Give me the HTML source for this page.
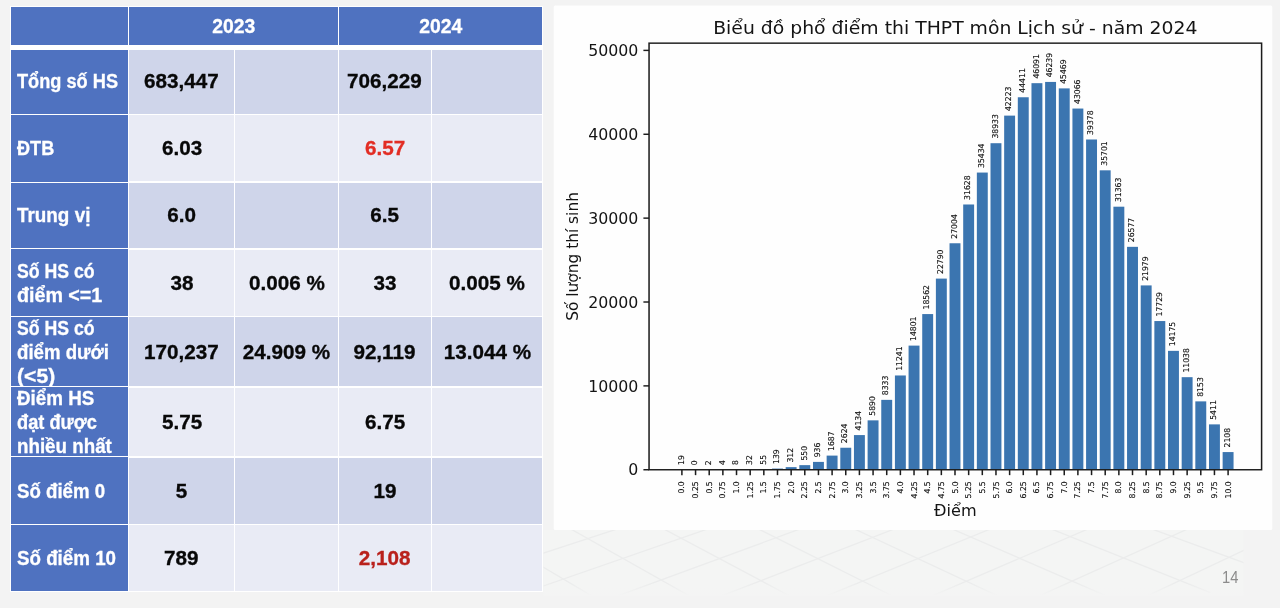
<!DOCTYPE html>
<html lang="vi">
<head>
<meta charset="utf-8">
<title>Phổ điểm thi THPT môn Lịch sử 2024</title>
<style>
html,body{margin:0;padding:0;}
body{width:1280px;height:608px;overflow:hidden;background:#f3f3f3;position:relative;font-family:"Liberation Sans","DejaVu Sans",sans-serif;}
#pat,#chart{position:absolute;left:0;top:0;}
#tbl{position:absolute;left:0;top:0;width:560px;height:608px;}
.wb{position:absolute;background:#ffffff;}
.c{position:absolute;display:flex;align-items:center;box-sizing:border-box;font-weight:bold;font-size:19.6px;line-height:24px;white-space:nowrap;overflow:hidden;}
.c.h{justify-content:center;color:#fff;}
.c.l{justify-content:flex-start;color:#fff;padding-left:5.6px;}
.c.v{justify-content:center;color:#080808;}
.c span{-webkit-text-stroke:0.3px currentColor;}
.c span{display:block;}
.c.l .ln{transform-origin:left center;}
#chart text.xt{font-size:7.7px;}
#chart text.bl{font-size:7.7px;}
#chart text.xt,#chart text.bl{stroke:#141414;stroke-width:0.12px;}
#chart text.yt{font-size:15.1px;}
#chart text.al{font-size:15.4px;}
#chart text.ti{font-size:18px;}
#pn{position:absolute;left:1222px;top:567.8px;font-size:16px;color:#8c8c8c;line-height:20px;transform:scaleX(0.92);transform-origin:left center;}
</style>
</head>
<body>
<svg id="pat" width="1280" height="608" viewBox="0 0 1280 608">
<defs><clipPath id="cp"><rect x="543.5" y="530" width="700" height="66"/></clipPath><linearGradient id="fade" x1="0" y1="0" x2="0" y2="1"><stop offset="0" stop-color="#f4f5f4" stop-opacity="0"/><stop offset="0.8" stop-color="#f4f5f4" stop-opacity="0"/><stop offset="1" stop-color="#f4f4f4" stop-opacity="1"/></linearGradient></defs>
<rect x="543.5" y="530" width="700" height="66" fill="#f4f5f4"/>
<g clip-path="url(#cp)" stroke="#ebecec" stroke-width="1.3" fill="none">
<line x1="277.5" y1="513.6" x2="457.5" y2="631.6"/>
<line x1="117.5" y1="593.8" x2="357.5" y2="529.0"/>
<line x1="366.0" y1="514.4" x2="546.0" y2="627.0"/>
<line x1="206.0" y1="597.2" x2="446.0" y2="527.8"/>
<line x1="456.1" y1="515.2" x2="636.1" y2="622.3"/>
<line x1="296.1" y1="600.6" x2="536.1" y2="526.7"/>
<line x1="547.8" y1="516.0" x2="727.8" y2="617.6"/>
<line x1="387.8" y1="604.1" x2="627.8" y2="525.5"/>
<line x1="641.1" y1="516.9" x2="821.1" y2="612.7"/>
<line x1="481.1" y1="607.6" x2="721.1" y2="524.3"/>
<line x1="736.0" y1="517.8" x2="916.0" y2="607.8"/>
<line x1="576.0" y1="611.2" x2="816.0" y2="523.1"/>
<line x1="832.5" y1="518.7" x2="1012.5" y2="602.8"/>
<line x1="672.5" y1="614.9" x2="912.5" y2="521.9"/>
<line x1="930.6" y1="519.6" x2="1110.6" y2="597.8"/>
<line x1="770.6" y1="618.7" x2="1010.6" y2="520.7"/>
<line x1="1030.3" y1="520.6" x2="1210.3" y2="592.6"/>
<line x1="870.3" y1="622.5" x2="1110.3" y2="519.4"/>
<line x1="1131.6" y1="521.6" x2="1311.6" y2="587.4"/>
<line x1="971.6" y1="626.4" x2="1211.6" y2="518.2"/>
<line x1="1234.5" y1="522.6" x2="1414.5" y2="582.1"/>
<line x1="1074.5" y1="630.3" x2="1314.5" y2="516.9"/>
<line x1="1339.0" y1="523.6" x2="1519.0" y2="576.7"/>
<line x1="1179.0" y1="634.4" x2="1419.0" y2="515.6"/>
<line x1="1445.1" y1="524.6" x2="1625.1" y2="571.3"/>
<line x1="1285.1" y1="638.4" x2="1525.1" y2="514.3"/>
</g>
<rect x="543.5" y="530" width="700" height="66" fill="url(#fade)"/>
</svg>
<svg id="chart" width="1280" height="608" viewBox="0 0 1280 608" font-family="'DejaVu Sans', 'Liberation Sans', sans-serif" fill="#141414">
<rect x="553.75" y="5.60" width="718.50" height="524.40" rx="1.5" fill="#fefefe"/>
<g transform="translate(553.75 0) scale(1.0460 1)">
<rect x="117.29" y="469.59" width="10.44" height="0.16" fill="#3b75b0"/>
<rect x="143.40" y="469.73" width="10.44" height="0.02" fill="#3b75b0"/>
<rect x="156.46" y="469.72" width="10.44" height="0.03" fill="#3b75b0"/>
<rect x="169.51" y="469.68" width="10.44" height="0.07" fill="#3b75b0"/>
<rect x="182.57" y="469.48" width="10.44" height="0.27" fill="#3b75b0"/>
<rect x="195.62" y="469.29" width="10.44" height="0.46" fill="#3b75b0"/>
<rect x="208.67" y="468.58" width="10.44" height="1.17" fill="#3b75b0"/>
<rect x="221.73" y="467.13" width="10.44" height="2.62" fill="#3b75b0"/>
<rect x="234.78" y="465.14" width="10.44" height="4.61" fill="#3b75b0"/>
<rect x="247.84" y="461.90" width="10.44" height="7.85" fill="#3b75b0"/>
<rect x="260.89" y="455.60" width="10.44" height="14.15" fill="#3b75b0"/>
<rect x="273.95" y="447.74" width="10.44" height="22.01" fill="#3b75b0"/>
<rect x="287.00" y="435.08" width="10.44" height="34.67" fill="#3b75b0"/>
<rect x="300.06" y="420.35" width="10.44" height="49.40" fill="#3b75b0"/>
<rect x="313.11" y="399.86" width="10.44" height="69.89" fill="#3b75b0"/>
<rect x="326.16" y="375.47" width="10.44" height="94.28" fill="#3b75b0"/>
<rect x="339.22" y="345.61" width="10.44" height="124.14" fill="#3b75b0"/>
<rect x="352.27" y="314.07" width="10.44" height="155.68" fill="#3b75b0"/>
<rect x="365.33" y="278.60" width="10.44" height="191.15" fill="#3b75b0"/>
<rect x="378.38" y="243.26" width="10.44" height="226.49" fill="#3b75b0"/>
<rect x="391.44" y="204.48" width="10.44" height="265.27" fill="#3b75b0"/>
<rect x="404.49" y="172.56" width="10.44" height="297.19" fill="#3b75b0"/>
<rect x="417.55" y="143.21" width="10.44" height="326.54" fill="#3b75b0"/>
<rect x="430.60" y="115.62" width="10.44" height="354.13" fill="#3b75b0"/>
<rect x="443.65" y="97.26" width="10.44" height="372.49" fill="#3b75b0"/>
<rect x="456.71" y="83.17" width="10.44" height="386.58" fill="#3b75b0"/>
<rect x="469.76" y="81.93" width="10.44" height="387.82" fill="#3b75b0"/>
<rect x="482.82" y="88.39" width="10.44" height="381.36" fill="#3b75b0"/>
<rect x="495.87" y="108.55" width="10.44" height="361.20" fill="#3b75b0"/>
<rect x="508.93" y="139.48" width="10.44" height="330.27" fill="#3b75b0"/>
<rect x="521.98" y="170.32" width="10.44" height="299.43" fill="#3b75b0"/>
<rect x="535.04" y="206.70" width="10.44" height="263.05" fill="#3b75b0"/>
<rect x="548.09" y="246.84" width="10.44" height="222.91" fill="#3b75b0"/>
<rect x="561.15" y="285.41" width="10.44" height="184.34" fill="#3b75b0"/>
<rect x="574.20" y="321.05" width="10.44" height="148.70" fill="#3b75b0"/>
<rect x="587.25" y="350.86" width="10.44" height="118.89" fill="#3b75b0"/>
<rect x="600.31" y="377.17" width="10.44" height="92.58" fill="#3b75b0"/>
<rect x="613.36" y="401.37" width="10.44" height="68.38" fill="#3b75b0"/>
<rect x="626.42" y="424.37" width="10.44" height="45.38" fill="#3b75b0"/>
<rect x="639.47" y="452.07" width="10.44" height="17.68" fill="#3b75b0"/>
<rect x="91.11" y="43.15" width="585.61" height="426.60" fill="none" stroke="#1c1c1c" stroke-width="1.45"/>
<line x1="122.51" y1="469.75" x2="122.51" y2="475.15" stroke="#1c1c1c" stroke-width="1.45"/>
<text class="xt" transform="translate(124.96 481.35) rotate(-90)" text-anchor="end">0.0</text>
<text class="bl" transform="translate(124.16 464.99) rotate(-90)" text-anchor="start">19</text>
<line x1="135.57" y1="469.75" x2="135.57" y2="475.15" stroke="#1c1c1c" stroke-width="1.45"/>
<text class="xt" transform="translate(138.02 481.35) rotate(-90)" text-anchor="end">0.25</text>
<text class="bl" transform="translate(137.22 465.15) rotate(-90)" text-anchor="start">0</text>
<line x1="148.62" y1="469.75" x2="148.62" y2="475.15" stroke="#1c1c1c" stroke-width="1.45"/>
<text class="xt" transform="translate(151.07 481.35) rotate(-90)" text-anchor="end">0.5</text>
<text class="bl" transform="translate(150.27 465.13) rotate(-90)" text-anchor="start">2</text>
<line x1="161.68" y1="469.75" x2="161.68" y2="475.15" stroke="#1c1c1c" stroke-width="1.45"/>
<text class="xt" transform="translate(164.13 481.35) rotate(-90)" text-anchor="end">0.75</text>
<text class="bl" transform="translate(163.33 465.12) rotate(-90)" text-anchor="start">4</text>
<line x1="174.73" y1="469.75" x2="174.73" y2="475.15" stroke="#1c1c1c" stroke-width="1.45"/>
<text class="xt" transform="translate(177.18 481.35) rotate(-90)" text-anchor="end">1.0</text>
<text class="bl" transform="translate(176.38 465.08) rotate(-90)" text-anchor="start">8</text>
<line x1="187.79" y1="469.75" x2="187.79" y2="475.15" stroke="#1c1c1c" stroke-width="1.45"/>
<text class="xt" transform="translate(190.24 481.35) rotate(-90)" text-anchor="end">1.25</text>
<text class="bl" transform="translate(189.44 464.88) rotate(-90)" text-anchor="start">32</text>
<line x1="200.84" y1="469.75" x2="200.84" y2="475.15" stroke="#1c1c1c" stroke-width="1.45"/>
<text class="xt" transform="translate(203.29 481.35) rotate(-90)" text-anchor="end">1.5</text>
<text class="bl" transform="translate(202.49 464.69) rotate(-90)" text-anchor="start">55</text>
<line x1="213.90" y1="469.75" x2="213.90" y2="475.15" stroke="#1c1c1c" stroke-width="1.45"/>
<text class="xt" transform="translate(216.35 481.35) rotate(-90)" text-anchor="end">1.75</text>
<text class="bl" transform="translate(215.55 463.98) rotate(-90)" text-anchor="start">139</text>
<line x1="226.95" y1="469.75" x2="226.95" y2="475.15" stroke="#1c1c1c" stroke-width="1.45"/>
<text class="xt" transform="translate(229.40 481.35) rotate(-90)" text-anchor="end">2.0</text>
<text class="bl" transform="translate(228.60 462.53) rotate(-90)" text-anchor="start">312</text>
<line x1="240.00" y1="469.75" x2="240.00" y2="475.15" stroke="#1c1c1c" stroke-width="1.45"/>
<text class="xt" transform="translate(242.45 481.35) rotate(-90)" text-anchor="end">2.25</text>
<text class="bl" transform="translate(241.65 460.54) rotate(-90)" text-anchor="start">550</text>
<line x1="253.06" y1="469.75" x2="253.06" y2="475.15" stroke="#1c1c1c" stroke-width="1.45"/>
<text class="xt" transform="translate(255.51 481.35) rotate(-90)" text-anchor="end">2.5</text>
<text class="bl" transform="translate(254.71 457.30) rotate(-90)" text-anchor="start">936</text>
<line x1="266.11" y1="469.75" x2="266.11" y2="475.15" stroke="#1c1c1c" stroke-width="1.45"/>
<text class="xt" transform="translate(268.56 481.35) rotate(-90)" text-anchor="end">2.75</text>
<text class="bl" transform="translate(267.76 451.00) rotate(-90)" text-anchor="start">1687</text>
<line x1="279.17" y1="469.75" x2="279.17" y2="475.15" stroke="#1c1c1c" stroke-width="1.45"/>
<text class="xt" transform="translate(281.62 481.35) rotate(-90)" text-anchor="end">3.0</text>
<text class="bl" transform="translate(280.82 443.14) rotate(-90)" text-anchor="start">2624</text>
<line x1="292.22" y1="469.75" x2="292.22" y2="475.15" stroke="#1c1c1c" stroke-width="1.45"/>
<text class="xt" transform="translate(294.67 481.35) rotate(-90)" text-anchor="end">3.25</text>
<text class="bl" transform="translate(293.87 430.48) rotate(-90)" text-anchor="start">4134</text>
<line x1="305.28" y1="469.75" x2="305.28" y2="475.15" stroke="#1c1c1c" stroke-width="1.45"/>
<text class="xt" transform="translate(307.73 481.35) rotate(-90)" text-anchor="end">3.5</text>
<text class="bl" transform="translate(306.93 415.75) rotate(-90)" text-anchor="start">5890</text>
<line x1="318.33" y1="469.75" x2="318.33" y2="475.15" stroke="#1c1c1c" stroke-width="1.45"/>
<text class="xt" transform="translate(320.78 481.35) rotate(-90)" text-anchor="end">3.75</text>
<text class="bl" transform="translate(319.98 395.26) rotate(-90)" text-anchor="start">8333</text>
<line x1="331.39" y1="469.75" x2="331.39" y2="475.15" stroke="#1c1c1c" stroke-width="1.45"/>
<text class="xt" transform="translate(333.84 481.35) rotate(-90)" text-anchor="end">4.0</text>
<text class="bl" transform="translate(333.04 370.87) rotate(-90)" text-anchor="start">11241</text>
<line x1="344.44" y1="469.75" x2="344.44" y2="475.15" stroke="#1c1c1c" stroke-width="1.45"/>
<text class="xt" transform="translate(346.89 481.35) rotate(-90)" text-anchor="end">4.25</text>
<text class="bl" transform="translate(346.09 341.01) rotate(-90)" text-anchor="start">14801</text>
<line x1="357.50" y1="469.75" x2="357.50" y2="475.15" stroke="#1c1c1c" stroke-width="1.45"/>
<text class="xt" transform="translate(359.95 481.35) rotate(-90)" text-anchor="end">4.5</text>
<text class="bl" transform="translate(359.15 309.47) rotate(-90)" text-anchor="start">18562</text>
<line x1="370.55" y1="469.75" x2="370.55" y2="475.15" stroke="#1c1c1c" stroke-width="1.45"/>
<text class="xt" transform="translate(373.00 481.35) rotate(-90)" text-anchor="end">4.75</text>
<text class="bl" transform="translate(372.20 274.00) rotate(-90)" text-anchor="start">22790</text>
<line x1="383.60" y1="469.75" x2="383.60" y2="475.15" stroke="#1c1c1c" stroke-width="1.45"/>
<text class="xt" transform="translate(386.05 481.35) rotate(-90)" text-anchor="end">5.0</text>
<text class="bl" transform="translate(385.25 238.66) rotate(-90)" text-anchor="start">27004</text>
<line x1="396.66" y1="469.75" x2="396.66" y2="475.15" stroke="#1c1c1c" stroke-width="1.45"/>
<text class="xt" transform="translate(399.11 481.35) rotate(-90)" text-anchor="end">5.25</text>
<text class="bl" transform="translate(398.31 199.88) rotate(-90)" text-anchor="start">31628</text>
<line x1="409.71" y1="469.75" x2="409.71" y2="475.15" stroke="#1c1c1c" stroke-width="1.45"/>
<text class="xt" transform="translate(412.16 481.35) rotate(-90)" text-anchor="end">5.5</text>
<text class="bl" transform="translate(411.36 167.96) rotate(-90)" text-anchor="start">35434</text>
<line x1="422.77" y1="469.75" x2="422.77" y2="475.15" stroke="#1c1c1c" stroke-width="1.45"/>
<text class="xt" transform="translate(425.22 481.35) rotate(-90)" text-anchor="end">5.75</text>
<text class="bl" transform="translate(424.42 138.61) rotate(-90)" text-anchor="start">38933</text>
<line x1="435.82" y1="469.75" x2="435.82" y2="475.15" stroke="#1c1c1c" stroke-width="1.45"/>
<text class="xt" transform="translate(438.27 481.35) rotate(-90)" text-anchor="end">6.0</text>
<text class="bl" transform="translate(437.47 111.02) rotate(-90)" text-anchor="start">42223</text>
<line x1="448.88" y1="469.75" x2="448.88" y2="475.15" stroke="#1c1c1c" stroke-width="1.45"/>
<text class="xt" transform="translate(451.33 481.35) rotate(-90)" text-anchor="end">6.25</text>
<text class="bl" transform="translate(450.53 92.66) rotate(-90)" text-anchor="start">44411</text>
<line x1="461.93" y1="469.75" x2="461.93" y2="475.15" stroke="#1c1c1c" stroke-width="1.45"/>
<text class="xt" transform="translate(464.38 481.35) rotate(-90)" text-anchor="end">6.5</text>
<text class="bl" transform="translate(463.58 78.57) rotate(-90)" text-anchor="start">46091</text>
<line x1="474.99" y1="469.75" x2="474.99" y2="475.15" stroke="#1c1c1c" stroke-width="1.45"/>
<text class="xt" transform="translate(477.44 481.35) rotate(-90)" text-anchor="end">6.75</text>
<text class="bl" transform="translate(476.64 77.33) rotate(-90)" text-anchor="start">46239</text>
<line x1="488.04" y1="469.75" x2="488.04" y2="475.15" stroke="#1c1c1c" stroke-width="1.45"/>
<text class="xt" transform="translate(490.49 481.35) rotate(-90)" text-anchor="end">7.0</text>
<text class="bl" transform="translate(489.69 83.79) rotate(-90)" text-anchor="start">45469</text>
<line x1="501.09" y1="469.75" x2="501.09" y2="475.15" stroke="#1c1c1c" stroke-width="1.45"/>
<text class="xt" transform="translate(503.54 481.35) rotate(-90)" text-anchor="end">7.25</text>
<text class="bl" transform="translate(502.74 103.95) rotate(-90)" text-anchor="start">43066</text>
<line x1="514.15" y1="469.75" x2="514.15" y2="475.15" stroke="#1c1c1c" stroke-width="1.45"/>
<text class="xt" transform="translate(516.60 481.35) rotate(-90)" text-anchor="end">7.5</text>
<text class="bl" transform="translate(515.80 134.88) rotate(-90)" text-anchor="start">39378</text>
<line x1="527.20" y1="469.75" x2="527.20" y2="475.15" stroke="#1c1c1c" stroke-width="1.45"/>
<text class="xt" transform="translate(529.65 481.35) rotate(-90)" text-anchor="end">7.75</text>
<text class="bl" transform="translate(528.85 165.72) rotate(-90)" text-anchor="start">35701</text>
<line x1="540.26" y1="469.75" x2="540.26" y2="475.15" stroke="#1c1c1c" stroke-width="1.45"/>
<text class="xt" transform="translate(542.71 481.35) rotate(-90)" text-anchor="end">8.0</text>
<text class="bl" transform="translate(541.91 202.10) rotate(-90)" text-anchor="start">31363</text>
<line x1="553.31" y1="469.75" x2="553.31" y2="475.15" stroke="#1c1c1c" stroke-width="1.45"/>
<text class="xt" transform="translate(555.76 481.35) rotate(-90)" text-anchor="end">8.25</text>
<text class="bl" transform="translate(554.96 242.24) rotate(-90)" text-anchor="start">26577</text>
<line x1="566.37" y1="469.75" x2="566.37" y2="475.15" stroke="#1c1c1c" stroke-width="1.45"/>
<text class="xt" transform="translate(568.82 481.35) rotate(-90)" text-anchor="end">8.5</text>
<text class="bl" transform="translate(568.02 280.81) rotate(-90)" text-anchor="start">21979</text>
<line x1="579.42" y1="469.75" x2="579.42" y2="475.15" stroke="#1c1c1c" stroke-width="1.45"/>
<text class="xt" transform="translate(581.87 481.35) rotate(-90)" text-anchor="end">8.75</text>
<text class="bl" transform="translate(581.07 316.45) rotate(-90)" text-anchor="start">17729</text>
<line x1="592.48" y1="469.75" x2="592.48" y2="475.15" stroke="#1c1c1c" stroke-width="1.45"/>
<text class="xt" transform="translate(594.93 481.35) rotate(-90)" text-anchor="end">9.0</text>
<text class="bl" transform="translate(594.13 346.26) rotate(-90)" text-anchor="start">14175</text>
<line x1="605.53" y1="469.75" x2="605.53" y2="475.15" stroke="#1c1c1c" stroke-width="1.45"/>
<text class="xt" transform="translate(607.98 481.35) rotate(-90)" text-anchor="end">9.25</text>
<text class="bl" transform="translate(607.18 372.57) rotate(-90)" text-anchor="start">11038</text>
<line x1="618.59" y1="469.75" x2="618.59" y2="475.15" stroke="#1c1c1c" stroke-width="1.45"/>
<text class="xt" transform="translate(621.04 481.35) rotate(-90)" text-anchor="end">9.5</text>
<text class="bl" transform="translate(620.24 396.77) rotate(-90)" text-anchor="start">8153</text>
<line x1="631.64" y1="469.75" x2="631.64" y2="475.15" stroke="#1c1c1c" stroke-width="1.45"/>
<text class="xt" transform="translate(634.09 481.35) rotate(-90)" text-anchor="end">9.75</text>
<text class="bl" transform="translate(633.29 419.77) rotate(-90)" text-anchor="start">5411</text>
<line x1="644.69" y1="469.75" x2="644.69" y2="475.15" stroke="#1c1c1c" stroke-width="1.45"/>
<text class="xt" transform="translate(647.14 481.35) rotate(-90)" text-anchor="end">10.0</text>
<text class="bl" transform="translate(646.34 447.47) rotate(-90)" text-anchor="start">2108</text>
<line x1="85.71" y1="469.75" x2="91.11" y2="469.75" stroke="#1c1c1c" stroke-width="1.45"/>
<text class="yt" x="80.91" y="475.45" text-anchor="end">0</text>
<line x1="85.71" y1="385.88" x2="91.11" y2="385.88" stroke="#1c1c1c" stroke-width="1.45"/>
<text class="yt" x="80.91" y="391.58" text-anchor="end">10000</text>
<line x1="85.71" y1="302.01" x2="91.11" y2="302.01" stroke="#1c1c1c" stroke-width="1.45"/>
<text class="yt" x="80.91" y="307.71" text-anchor="end">20000</text>
<line x1="85.71" y1="218.13" x2="91.11" y2="218.13" stroke="#1c1c1c" stroke-width="1.45"/>
<text class="yt" x="80.91" y="223.83" text-anchor="end">30000</text>
<line x1="85.71" y1="134.26" x2="91.11" y2="134.26" stroke="#1c1c1c" stroke-width="1.45"/>
<text class="yt" x="80.91" y="139.96" text-anchor="end">40000</text>
<line x1="85.71" y1="50.39" x2="91.11" y2="50.39" stroke="#1c1c1c" stroke-width="1.45"/>
<text class="yt" x="80.91" y="56.09" text-anchor="end">50000</text>
<text class="ti" x="383.91" y="33.70" text-anchor="middle">Biểu đồ phổ điểm thi THPT môn Lịch sử - năm 2024</text>
<text class="al" x="383.91" y="516.00" text-anchor="middle">Điểm</text>
<text class="al" transform="translate(22.90 256.45) rotate(-90)" text-anchor="middle">Số lượng thí sinh</text>
</g>
</svg>
<div id="tbl">
<div class="wb" style="left:9.90px;top:6.30px;width:533.50px;height:585.30px"></div>
<div class="c h" style="left:11.20px;top:7.00px;width:116.80px;height:38.00px;background:#4f72c0;"></div>
<div class="c h" style="left:129.40px;top:7.00px;width:208.40px;height:38.00px;background:#4f72c0;"><span style="transform:scaleX(0.9860)">2023</span></div>
<div class="c h" style="left:339.20px;top:7.00px;width:202.70px;height:38.00px;background:#4f72c0;"><span style="transform:scaleX(0.9860)">2024</span></div>
<div class="c l" style="left:11.20px;top:49.50px;width:116.80px;height:64.55px;background:#4f72c0;padding-bottom:2px;"><div class="lb"><span class="ln" style="transform:scaleX(0.9281)">Tổng số HS</span></div></div>
<div class="c v" style="left:129.40px;top:49.50px;width:104.60px;height:64.30px;background:#cfd5ea;padding-bottom:2px;"><span style="transform:scaleX(1.0550)">683,447</span></div>
<div class="c v" style="left:235.40px;top:49.50px;width:102.40px;height:64.30px;background:#cfd5ea;padding-bottom:2px;"></div>
<div class="c v" style="left:339.20px;top:49.50px;width:91.35px;height:64.30px;background:#cfd5ea;padding-bottom:2px;"><span style="transform:scaleX(1.0550)">706,229</span></div>
<div class="c v" style="left:431.95px;top:49.50px;width:109.95px;height:64.30px;background:#cfd5ea;padding-bottom:2px;"></div>
<div class="c l" style="left:11.20px;top:114.95px;width:116.80px;height:66.80px;background:#4f72c0;"><div class="lb"><span class="ln" style="transform:scaleX(0.9249)">ĐTB</span></div></div>
<div class="c v" style="left:129.40px;top:115.20px;width:104.60px;height:66.30px;background:#e9ebf5;"><span style="transform:scaleX(1.0550)">6.03</span></div>
<div class="c v" style="left:235.40px;top:115.20px;width:102.40px;height:66.30px;background:#e9ebf5;"></div>
<div class="c v" style="left:339.20px;top:115.20px;width:91.35px;height:66.30px;background:#e9ebf5;color:#e22d24;"><span style="transform:scaleX(1.0550)">6.57</span></div>
<div class="c v" style="left:431.95px;top:115.20px;width:109.95px;height:66.30px;background:#e9ebf5;"></div>
<div class="c l" style="left:11.20px;top:182.65px;width:116.80px;height:65.70px;background:#4f72c0;"><div class="lb"><span class="ln" style="transform:scaleX(0.9628)">Trung vị</span></div></div>
<div class="c v" style="left:129.40px;top:182.90px;width:104.60px;height:65.20px;background:#cfd5ea;"><span style="transform:scaleX(1.0550)">6.0</span></div>
<div class="c v" style="left:235.40px;top:182.90px;width:102.40px;height:65.20px;background:#cfd5ea;"></div>
<div class="c v" style="left:339.20px;top:182.90px;width:91.35px;height:65.20px;background:#cfd5ea;"><span style="transform:scaleX(1.0550)">6.5</span></div>
<div class="c v" style="left:431.95px;top:182.90px;width:109.95px;height:65.20px;background:#cfd5ea;"></div>
<div class="c l" style="left:11.20px;top:249.25px;width:116.80px;height:66.80px;background:#4f72c0;"><div class="lb"><span class="ln" style="transform:scaleX(0.9025)">Số HS có</span><span class="ln" style="transform:scaleX(1.0031)">điểm &lt;=1</span></div></div>
<div class="c v" style="left:129.40px;top:249.50px;width:104.60px;height:66.30px;background:#e9ebf5;"><span style="transform:scaleX(1.0550)">38</span></div>
<div class="c v" style="left:235.40px;top:249.50px;width:102.40px;height:66.30px;background:#e9ebf5;"><span style="transform:scaleX(1.0550)">0.006 %</span></div>
<div class="c v" style="left:339.20px;top:249.50px;width:91.35px;height:66.30px;background:#e9ebf5;"><span style="transform:scaleX(1.0550)">33</span></div>
<div class="c v" style="left:431.95px;top:249.50px;width:109.95px;height:66.30px;background:#e9ebf5;"><span style="transform:scaleX(1.0550)">0.005 %</span></div>
<div class="c l" style="left:11.20px;top:316.95px;width:116.80px;height:69.50px;background:#4f72c0;"><div class="lb"><span class="ln" style="transform:scaleX(0.9025)">Số HS có</span><span class="ln" style="transform:scaleX(0.9515)">điểm dưới</span><span class="ln" style="transform:scaleX(1.0795)">(&lt;5)</span></div></div>
<div class="c v" style="left:129.40px;top:317.20px;width:104.60px;height:69.00px;background:#cfd5ea;"><span style="transform:scaleX(1.0550)">170,237</span></div>
<div class="c v" style="left:235.40px;top:317.20px;width:102.40px;height:69.00px;background:#cfd5ea;"><span style="transform:scaleX(1.0550)">24.909 %</span></div>
<div class="c v" style="left:339.20px;top:317.20px;width:91.35px;height:69.00px;background:#cfd5ea;"><span style="transform:scaleX(1.0550)">92,119</span></div>
<div class="c v" style="left:431.95px;top:317.20px;width:109.95px;height:69.00px;background:#cfd5ea;"><span style="transform:scaleX(1.0550)">13.044 %</span></div>
<div class="c l" style="left:11.20px;top:387.35px;width:116.80px;height:69.10px;background:#4f72c0;"><div class="lb"><span class="ln" style="transform:scaleX(0.9588)">Điểm HS</span><span class="ln" style="transform:scaleX(0.9306)">đạt được</span><span class="ln" style="transform:scaleX(0.9572)">nhiều nhất</span></div></div>
<div class="c v" style="left:129.40px;top:387.60px;width:104.60px;height:68.60px;background:#e9ebf5;"><span style="transform:scaleX(1.0550)">5.75</span></div>
<div class="c v" style="left:235.40px;top:387.60px;width:102.40px;height:68.60px;background:#e9ebf5;"></div>
<div class="c v" style="left:339.20px;top:387.60px;width:91.35px;height:68.60px;background:#e9ebf5;"><span style="transform:scaleX(1.0550)">6.75</span></div>
<div class="c v" style="left:431.95px;top:387.60px;width:109.95px;height:68.60px;background:#e9ebf5;"></div>
<div class="c l" style="left:11.20px;top:457.35px;width:116.80px;height:66.60px;background:#4f72c0;"><div class="lb"><span class="ln" style="transform:scaleX(0.9520)">Số điểm 0</span></div></div>
<div class="c v" style="left:129.40px;top:457.60px;width:104.60px;height:66.10px;background:#cfd5ea;"><span style="transform:scaleX(1.0550)">5</span></div>
<div class="c v" style="left:235.40px;top:457.60px;width:102.40px;height:66.10px;background:#cfd5ea;"></div>
<div class="c v" style="left:339.20px;top:457.60px;width:91.35px;height:66.10px;background:#cfd5ea;"><span style="transform:scaleX(1.0550)">19</span></div>
<div class="c v" style="left:431.95px;top:457.60px;width:109.95px;height:66.10px;background:#cfd5ea;"></div>
<div class="c l" style="left:11.20px;top:524.85px;width:116.80px;height:65.95px;background:#4f72c0;"><div class="lb"><span class="ln" style="transform:scaleX(0.9570)">Số điểm 10</span></div></div>
<div class="c v" style="left:129.40px;top:525.10px;width:104.60px;height:65.70px;background:#e9ebf5;"><span style="transform:scaleX(1.0550)">789</span></div>
<div class="c v" style="left:235.40px;top:525.10px;width:102.40px;height:65.70px;background:#e9ebf5;"></div>
<div class="c v" style="left:339.20px;top:525.10px;width:91.35px;height:65.70px;background:#e9ebf5;color:#b9211c;"><span style="transform:scaleX(1.0550)">2,108</span></div>
<div class="c v" style="left:431.95px;top:525.10px;width:109.95px;height:65.70px;background:#e9ebf5;"></div>
</div>
<div id="pn">14</div>
</body>
</html>
